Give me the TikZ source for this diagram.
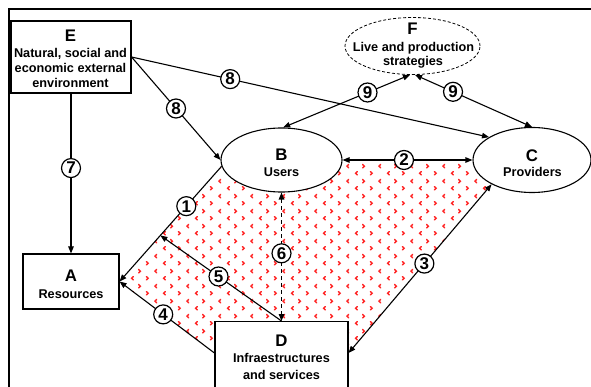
\documentclass[tikz,border=0pt]{standalone}
\usepackage{fontspec}
\setmainfont{Liberation Sans}
\usetikzlibrary{patterns,shapes.geometric,arrows.meta,backgrounds,calc}
\pgfdeclarepatternformonly{chev}{\pgfqpoint{0pt}{0pt}}{\pgfqpoint{32pt}{15pt}}{\pgfqpoint{32pt}{15pt}}{%
  \pgfsetlinewidth{1.5pt}%
  \pgfsetroundcap
  \pgfpathmoveto{\pgfqpoint{5.5pt}{5.8pt}}\pgfpathlineto{\pgfqpoint{3.8pt}{4pt}}\pgfpathlineto{\pgfqpoint{5.5pt}{2.2pt}}%
  \pgfpathmoveto{\pgfqpoint{19pt}{5.8pt}}\pgfpathlineto{\pgfqpoint{20.7pt}{4pt}}\pgfpathlineto{\pgfqpoint{19pt}{2.2pt}}%
  \pgfpathmoveto{\pgfqpoint{11pt}{13.3pt}}\pgfpathlineto{\pgfqpoint{12.7pt}{11.5pt}}\pgfpathlineto{\pgfqpoint{11pt}{9.7pt}}%
  \pgfpathmoveto{\pgfqpoint{29.5pt}{13.3pt}}\pgfpathlineto{\pgfqpoint{27.8pt}{11.5pt}}\pgfpathlineto{\pgfqpoint{29.5pt}{9.7pt}}%
  \pgfusepath{stroke}}
\tikzset{
 box/.style={draw, fill=white, line width=1.1pt, inner sep=0pt},
 ell/.style={ellipse, draw, fill=white, line width=1.1pt, inner sep=0pt},
 num/.style={circle, draw, fill=white, line width=1.2pt, minimum size=19pt, inner sep=0pt, font=\fontsize{17}{17}\selectfont\bfseries},
 ttl/.style={anchor=base, inner sep=0pt, font=\fontsize{16.8}{17}\selectfont\bfseries},
 txt/.style={anchor=base, inner sep=0pt, font=\fontsize{12.7}{13}\selectfont\bfseries},
 conn/.style={line width=1.1pt, -{Triangle[length=7pt,width=5.5pt]}},
 dconn/.style={line width=1.1pt, {Triangle[length=7pt,width=5.5pt]}-{Triangle[length=7pt,width=5.5pt]}},
}
\begin{document}
\begin{tikzpicture}[x=1pt,y=-1pt]
\useasboundingbox (0,0) rectangle (591,387);
% frame
\draw[line width=1.8pt] (9,400) -- (9,9) -- (600,9);
% nodes
\node[box, minimum width=120pt, minimum height=72pt] (E) at (71,57) {};
\node[box, minimum width=96pt, minimum height=55pt] (A) at (71,281.5) {};
\node[box, minimum width=133pt, minimum height=80pt, anchor=north] (D) at (281.5,321) {};
\node[ell, minimum width=121pt, minimum height=64pt] (B) at (281.5,160) {};
\node[ell, minimum width=118pt, minimum height=65pt] (C) at (532,160) {};
\node[ellipse, draw, fill=white, line width=0.8pt, dash pattern=on 3pt off 2pt, inner sep=0pt, minimum width=135pt, minimum height=57pt] (F) at (412.5,46) {};
% hatched region
\begin{scope}[on background layer]
\fill[white] (0,0) rectangle (591,387);
\fill[pattern=chev, pattern color=red!85] (B.186) -- (A.east) -- ([yshift=-32pt]D.north west) -- ([yshift=-32pt]D.north east) -- (C.211) -- (C.center) -- (B.center) -- cycle;
\end{scope}
% texts
\node[ttl] (Et) at (70.5,42) {E};
\node[txt] (E1) at (70.5,58) {Natural, social and};
\node[txt] (E2) at (70.5,73) {economic external};
\node[txt] (E3) at (70.5,88) {environment};
\node[ttl] (Ft) at (412.5,35) {F};
\node[txt] (F1) at (413.5,51.5) {Live and production};
\node[txt] (F2) at (413,65.5) {strategies};
\node[ttl] (Bt) at (281.5,161) {B};
\node[txt] (B1) at (281.5,177) {Users};
\node[ttl] (Ct) at (532,161.5) {C};
\node[txt] (C1) at (532.5,177) {Providers};
\node[ttl] (At) at (71,281.5) {A};
\node[txt] (A1) at (71,298) {Resources};
\node[ttl] (Dt) at (281.5,346.5) {D};
\node[txt] (D1) at (281.5,362.5) {Infraestructures};
\node[txt] (D2) at (281.5,379) {and services};
% connectors
\coordinate (p5) at ($(B.186)!0.6!(A.east)$);
\coordinate (Dl) at ([yshift=-32pt]D.north west);
\coordinate (Dr) at ([yshift=-32pt]D.north east);
\draw[conn] (E.south) -- node[num, pos=0.466] (n7) {7} (A.north);
\draw[conn] (E.east) -- node[num, pos=0.5] (n8a) {8} (B.west);
\draw[conn] (E.east) -- node[num, pos=0.276] (n8b) {8} (C.152);
\draw[dconn] (F.265) -- node[num, pos=0.335] (n9a) {9} (B.87);
\draw[dconn] (F.275) -- node[num, pos=0.325] (n9b) {9} (C.90);
\draw[dconn] (B.east) -- node[num, pos=0.473] (n2) {2} (C.west);
\draw[conn] (B.186) -- node[num, pos=0.346] (n1) {1} (A.east);
\draw[conn] (D.north) -- node[num, pos=0.52] (n5) {5} (p5);
\draw[conn] (Dl) -- node[num, pos=0.54] (n4) {4} (A.east);
\draw[dconn] (C.211) -- node[num, pos=0.47] (n3) {3} (Dr);
\draw[dconn, dash pattern=on 4pt off 3pt] (B.south) -- node[num, pos=0.473, solid] (n6) {6} (D.north);
\end{tikzpicture}
\end{document}
